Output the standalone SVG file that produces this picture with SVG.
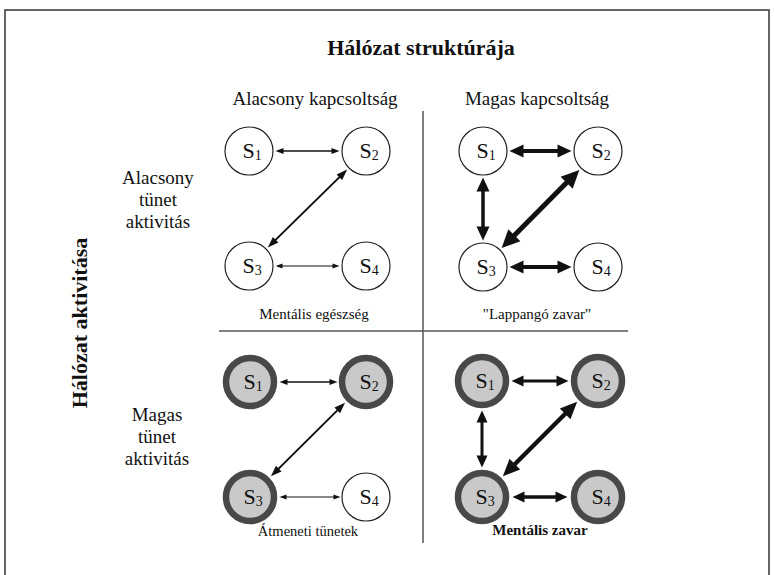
<svg xmlns="http://www.w3.org/2000/svg" width="774" height="575" viewBox="0 0 774 575">
<style>
text{font-family:"Liberation Serif","Times New Roman",serif;fill:#111}
.t{font-size:22px;font-weight:bold}
.h{font-size:19px}
.r{font-size:19px;text-anchor:middle}
.lb{font-size:15px;text-anchor:middle}
.nw{fill:#fff;stroke:#222;stroke-width:1.2}
.ng{fill:#c9c9c9;stroke:#484848;stroke-width:6.5}
.s{font-size:22px;text-anchor:middle}
.sub{font-size:14px}
.e{stroke:#111;fill:none}
.mk{fill:#111}
</style>
<defs>
<marker id="a1" markerUnits="userSpaceOnUse" markerWidth="8" markerHeight="6" refX="0.5" refY="3" orient="auto-start-reverse" overflow="visible"><path class="mk" d="M0,0 L8,3 L0,6 z"/></marker>
<marker id="a0" markerUnits="userSpaceOnUse" markerWidth="7" markerHeight="5" refX="0.5" refY="2.5" orient="auto-start-reverse" overflow="visible"><path class="mk" d="M0,0 L7,2.5 L0,5 z"/></marker>
<marker id="a2" markerUnits="userSpaceOnUse" markerWidth="11" markerHeight="8" refX="0.5" refY="4" orient="auto-start-reverse" overflow="visible"><path class="mk" d="M0,0 L11,4 L0,8 z"/></marker>
<marker id="a3" markerUnits="userSpaceOnUse" markerWidth="14" markerHeight="13" refX="0.5" refY="6.5" orient="auto-start-reverse" overflow="visible"><path class="mk" d="M0,0 L14,6.5 L0,13 z"/></marker>
<marker id="a3b" markerUnits="userSpaceOnUse" markerWidth="12" markerHeight="11" refX="0.5" refY="5.5" orient="auto-start-reverse" overflow="visible"><path class="mk" d="M0,0 L12,5.5 L0,11 z"/></marker>
<marker id="a4" markerUnits="userSpaceOnUse" markerWidth="18" markerHeight="17" refX="0.5" refY="8.5" orient="auto-start-reverse" overflow="visible"><path class="mk" d="M0,0 L18,8.5 L0,17 z"/></marker>
<marker id="a4b" markerUnits="userSpaceOnUse" markerWidth="17" markerHeight="15" refX="0.5" refY="7.5" orient="auto-start-reverse" overflow="visible"><path class="mk" d="M0,0 L17,7.5 L0,15 z"/></marker>
</defs>
<rect width="774" height="575" fill="#fff"/>
<path d="M5,575 V10 H769 V575" fill="none" stroke="#333" stroke-width="1.5"/>
<g id="dividers" stroke="#555" stroke-width="1.5">
<line x1="423" y1="111" x2="423" y2="543"/>
<line x1="219" y1="331" x2="628" y2="331"/>
</g>
<g id="connectors">
<line class="e" x1="283" y1="151" x2="332" y2="151" stroke-width="1.3" marker-start="url(#a1)" marker-end="url(#a1)"/>
<line class="e" x1="275.3" y1="240.1" x2="339.7" y2="176.9" stroke-width="2" marker-start="url(#a2)" marker-end="url(#a2)"/>
<line class="e" x1="282" y1="266" x2="333" y2="266" stroke-width="1" marker-start="url(#a0)" marker-end="url(#a0)"/>
<line class="e" x1="523" y1="151" x2="558" y2="151" stroke-width="4" marker-start="url(#a3)" marker-end="url(#a3)"/>
<line class="e" x1="483" y1="191" x2="483" y2="227" stroke-width="3.5" marker-start="url(#a3)" marker-end="url(#a3)"/>
<line class="e" x1="514" y1="235.7" x2="567" y2="182.3" stroke-width="5" marker-start="url(#a4)" marker-end="url(#a4)"/>
<line class="e" x1="523" y1="267" x2="558" y2="267" stroke-width="4" marker-start="url(#a3)" marker-end="url(#a3)"/>
<line class="e" x1="287" y1="382" x2="330" y2="382" stroke-width="1.5" marker-start="url(#a1)" marker-end="url(#a1)"/>
<line class="e" x1="278.4" y1="468.9" x2="337.6" y2="410.1" stroke-width="2" marker-start="url(#a2)" marker-end="url(#a2)"/>
<line class="e" x1="286" y1="497" x2="334" y2="497" stroke-width="1" marker-start="url(#a0)" marker-end="url(#a0)"/>
<line class="e" x1="523" y1="381" x2="557" y2="381" stroke-width="3" marker-start="url(#a3b)" marker-end="url(#a3b)"/>
<line class="e" x1="482" y1="422" x2="482" y2="456" stroke-width="3" marker-start="url(#a3b)" marker-end="url(#a3b)"/>
<line class="e" x1="514.5" y1="464.5" x2="565.5" y2="413.5" stroke-width="4.5" marker-start="url(#a4b)" marker-end="url(#a4b)"/>
<line class="e" x1="524" y1="497" x2="556" y2="497" stroke-width="3.5" marker-start="url(#a3b)" marker-end="url(#a3b)"/>
</g>
<g id="tl-s1"><circle class="nw" cx="249" cy="151" r="24"/><text class="s" x="252" y="158">S<tspan class="sub" dy="2">1</tspan></text></g>
<g id="tl-s2"><circle class="nw" cx="366" cy="151" r="24"/><text class="s" x="369" y="158">S<tspan class="sub" dy="2">2</tspan></text></g>
<g id="tl-s3"><circle class="nw" cx="249" cy="266" r="24"/><text class="s" x="252" y="273">S<tspan class="sub" dy="2">3</tspan></text></g>
<g id="tl-s4"><circle class="nw" cx="366" cy="266" r="24"/><text class="s" x="369" y="273">S<tspan class="sub" dy="2">4</tspan></text></g>
<g id="tr-s1"><circle class="nw" cx="483" cy="151" r="24"/><text class="s" x="486" y="158">S<tspan class="sub" dy="2">1</tspan></text></g>
<g id="tr-s2"><circle class="nw" cx="598" cy="151" r="24"/><text class="s" x="601" y="158">S<tspan class="sub" dy="2">2</tspan></text></g>
<g id="tr-s3"><circle class="nw" cx="483" cy="267" r="24"/><text class="s" x="486" y="274">S<tspan class="sub" dy="2">3</tspan></text></g>
<g id="tr-s4"><circle class="nw" cx="598" cy="267" r="24"/><text class="s" x="601" y="274">S<tspan class="sub" dy="2">4</tspan></text></g>
<g id="bl-s1"><circle class="ng" cx="250" cy="382" r="24"/><text class="s" x="253" y="389">S<tspan class="sub" dy="2">1</tspan></text></g>
<g id="bl-s2"><circle class="ng" cx="366" cy="382" r="24"/><text class="s" x="369" y="389">S<tspan class="sub" dy="2">2</tspan></text></g>
<g id="bl-s3"><circle class="ng" cx="250" cy="497" r="24"/><text class="s" x="253" y="504">S<tspan class="sub" dy="2">3</tspan></text></g>
<g id="bl-s4"><circle class="nw" cx="366" cy="497" r="24"/><text class="s" x="369" y="504">S<tspan class="sub" dy="2">4</tspan></text></g>
<g id="br-s1"><circle class="ng" cx="482" cy="381" r="24"/><text class="s" x="485" y="388">S<tspan class="sub" dy="2">1</tspan></text></g>
<g id="br-s2"><circle class="ng" cx="598" cy="381" r="24"/><text class="s" x="601" y="388">S<tspan class="sub" dy="2">2</tspan></text></g>
<g id="br-s3"><circle class="ng" cx="482" cy="497" r="24"/><text class="s" x="485" y="504">S<tspan class="sub" dy="2">3</tspan></text></g>
<g id="br-s4"><circle class="ng" cx="598" cy="497" r="24"/><text class="s" x="601" y="504">S<tspan class="sub" dy="2">4</tspan></text></g>
<g id="labels">
<text class="t" x="421" y="55" text-anchor="middle">Hálózat struktúrája</text>
<text class="h" x="315" y="105" text-anchor="middle">Alacsony kapcsoltság</text>
<text class="h" x="537" y="105" text-anchor="middle">Magas kapcsoltság</text>
<text class="t" transform="translate(87,323) rotate(-90)" text-anchor="middle">Hálózat aktivitása</text>
<text class="r" x="158" y="184">Alacsony</text>
<text class="r" x="158" y="206">tünet</text>
<text class="r" x="158" y="228">aktivitás</text>
<text class="r" x="157" y="421">Magas</text>
<text class="r" x="157" y="443">tünet</text>
<text class="r" x="157" y="465">aktivitás</text>
<text class="lb" x="314" y="319">Mentális egészség</text>
<text class="lb" x="537" y="319">"Lappangó zavar"</text>
<text class="lb" x="308" y="536" style="font-size:14.5px">Átmeneti tünetek</text>
<text class="lb" x="540" y="535" style="font-weight:bold">Mentális zavar</text>
</g>
</svg>
